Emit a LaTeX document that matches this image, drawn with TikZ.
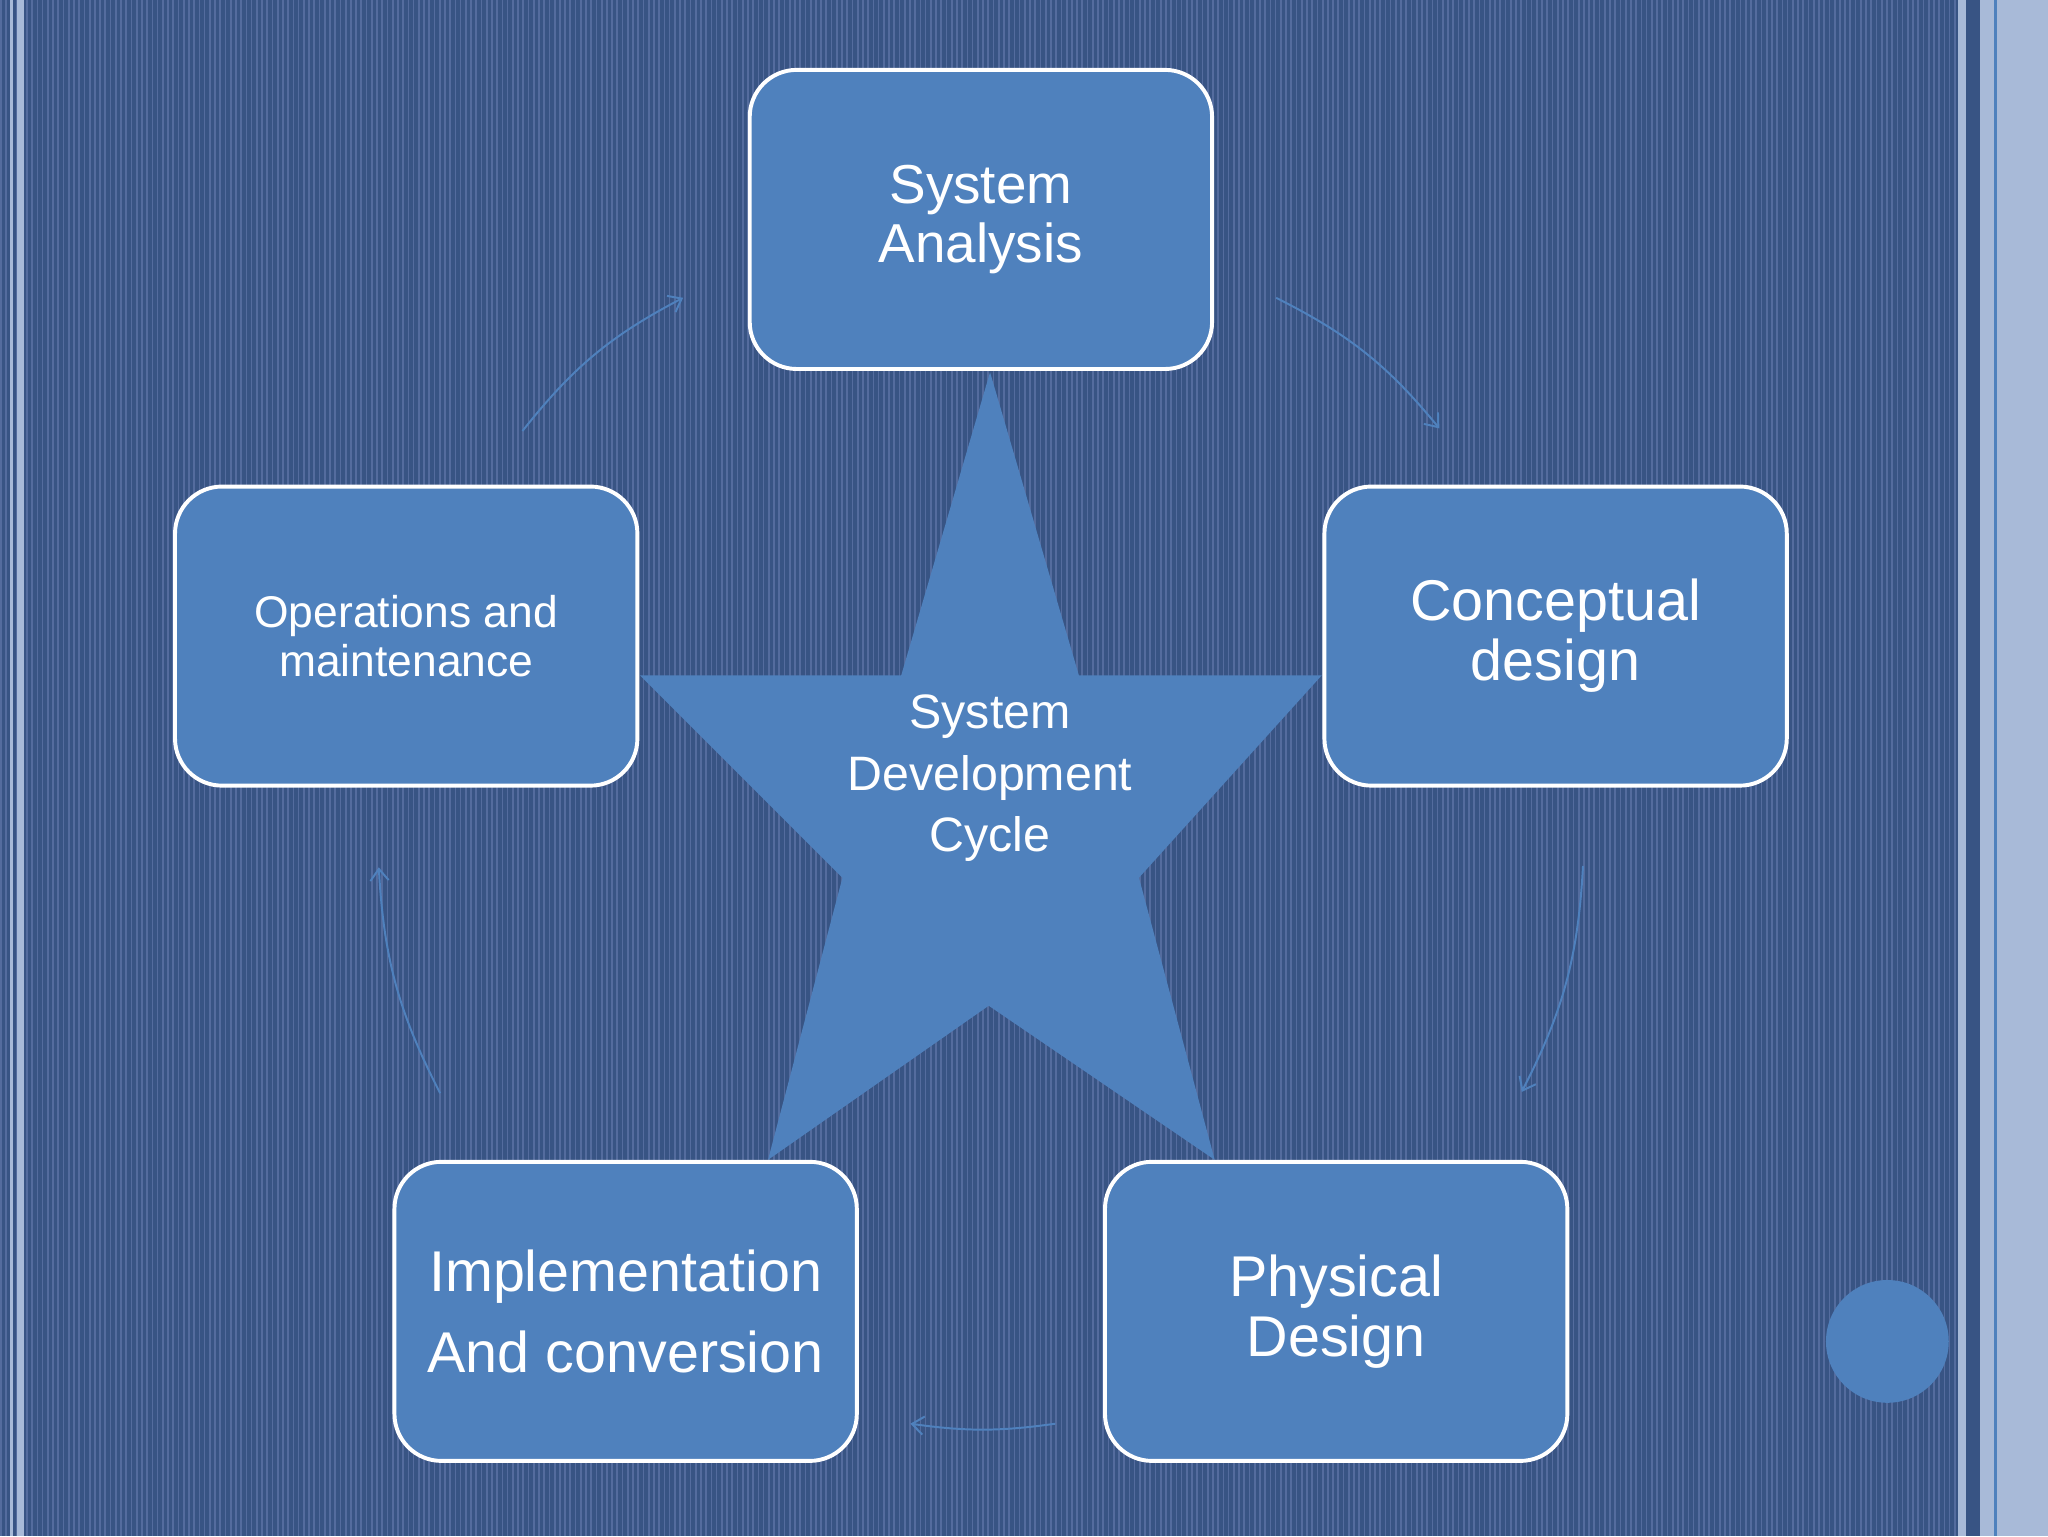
\documentclass[tikz,border=0pt]{standalone}
\usepackage{fontspec}
\setmainfont{Liberation Sans}
\usetikzlibrary{arrows.meta}
\definecolor{bgdark}{RGB}{56,84,132}
\definecolor{bgline}{RGB}{84,108,158}
\definecolor{boxblue}{RGB}{79,129,189}
\definecolor{pale}{RGB}{168,186,216}
\tikzset{
  box/.style={draw=white,line width=3pt,fill=boxblue,rounded corners=36pt,minimum width=354pt,minimum height=229pt,text=white,align=center,inner sep=0pt},
  cyc/.style={draw=boxblue,line width=1.5pt,-{Straight Barb[length=9pt,width=14pt]}}
}
\begin{document}
\begin{tikzpicture}[x=1pt,y=-1pt]
\useasboundingbox (0,0) rectangle (1568,1176);
\fill[bgdark] (0,0) rectangle (1568,1176);
\foreach \x in {0,4,...,1500}{\fill[bgline] (\x,0) rectangle ++(1.3,1176);}
\fill[pale] (8,0) rectangle (10,1176);
\fill[pale] (13,0) rectangle (18,1176);
\fill[pale] (1499,0) rectangle (1505,1176);
\fill[bgdark] (1505,0) rectangle (1516,1176);
\fill[pale] (1516,0) rectangle (1568,1176);
\fill[boxblue] (1527,0) rectangle (1529,1176);
% star
\fill[boxblue] (758,285) -- (826,517) -- (1012,517) -- (872,672) -- (930,888) -- (757,770) -- (588,888) -- (645,672) -- (490,517) -- (690,517) -- cycle;
\node[text=white,align=center,font=\fontsize{37}{47}\selectfont] (center) at (758,596) {System\\Development\\Cycle};
\node[box,font=\fontsize{42}{45}\selectfont] (sa) at (751,168) {System\\Analysis};
\node[box,font=\fontsize{44}{46}\selectfont] (cd) at (1191,487) {Conceptual\\design};
\node[box,font=\fontsize{44}{46}\selectfont] (pd) at (1023,1004) {Physical\\Design};
\node[box,font=\fontsize{44}{62}\selectfont] (ic) at (479,1004) {Implementation\\And conversion};
\node[box,font=\fontsize{34}{37}\selectfont] (om) at (311,487) {Operations and\\maintenance};
\fill[boxblue] (1445,1027) circle (47);
\coordinate (a1) at (977,228); \coordinate (a2) at (1102,328);
\coordinate (b1) at (1212,663); \coordinate (b2) at (1165,836);
\coordinate (c1) at (808,1090); \coordinate (c2) at (697,1090);
\coordinate (d1) at (337,837); \coordinate (d2) at (290,664);
\coordinate (e1) at (400,330); \coordinate (e2) at (523,228);
\draw[cyc] (a1) to[bend left=12] (a2);
\draw[cyc] (b1) to[bend left=12] (b2);
\draw[cyc] (c1) to[bend left=8] (c2);
\draw[cyc] (d1) to[bend left=12] (d2);
\draw[cyc] (e1) to[bend left=12] (e2);
\end{tikzpicture}
\end{document}
